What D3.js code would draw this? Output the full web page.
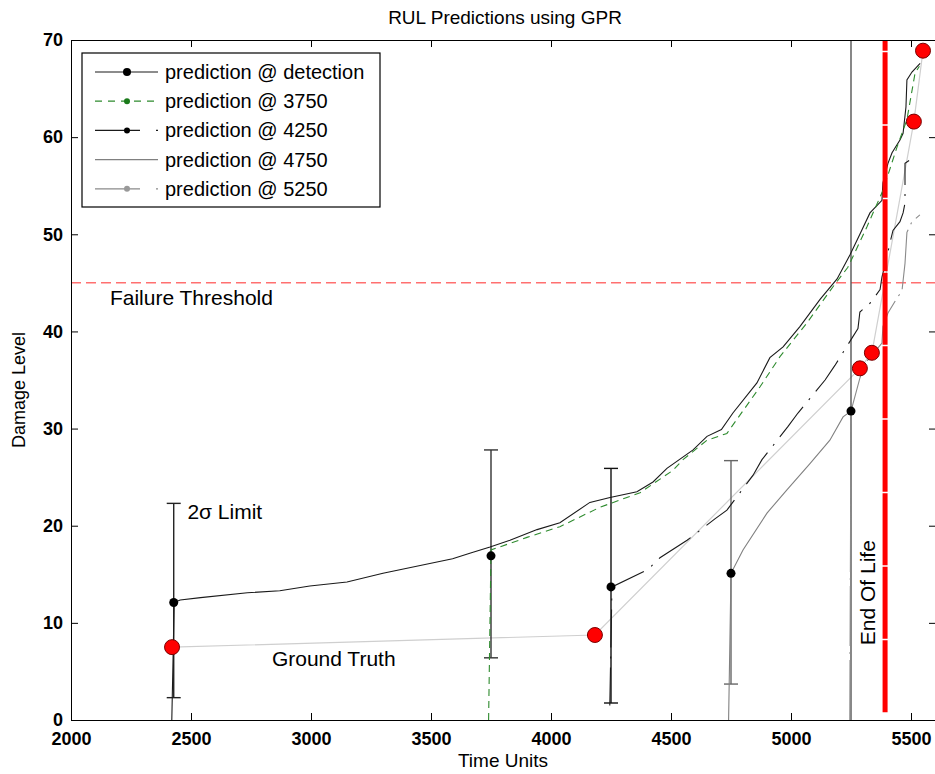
<!DOCTYPE html>
<html>
<head>
<meta charset="utf-8">
<script src="https://cdn.jsdelivr.net/npm/d3@7"></script>
<style>
  body { margin: 0; background: #fff; }
  text { font-family: "Liberation Sans", Arial, sans-serif; }
</style>
</head>
<body>
<script>
// ---- data ----
let xTicks = [2000, 2500, 3000, 3500, 4000, 4500, 5000, 5500];
let yTicks = [0, 10, 20, 30, 40, 50, 60, 70];

let seriesNames = ["prediction @ detection", "prediction @ 3750", "prediction @ 4250",
                   "prediction @ 4750", "prediction @ 5250"];

let predDetection = [[2420,0],[2430,12.1],[2455,12.35],[2540,12.6],[2735,13.1],[2870,13.3],[2995,13.8],
  [3150,14.2],[3300,15.1],[3455,15.9],[3590,16.6],[3665,17.2],[3746,17.8],[3829,18.5],[3942,19.6],
  [4037,20.3],[4162,22.4],[4246,22.9],[4358,23.5],[4425,24.5],[4483,25.9],[4592,27.8],[4650,29.2],
  [4710,29.9],[4758,31.6],[4858,34.7],[4912,37.3],[4967,38.4],[5037,40.5],[5121,43.3],[5192,45.4],
  [5246,47.9],[5287,50.0],[5329,52.2],[5379,53.5],[5383,55.3],[5404,57.3],[5421,58.4],[5454,59.7],
  [5467,60.4],[5479,63.1],[5483,65.9],[5504,66.7],[5538,67.6]];

let pred3750 = [[3740,0],[3750,17.5],[3900,18.8],[4037,19.9],[4204,21.9],[4371,23.4],[4508,25.7],
  [4550,26.8],[4650,28.8],[4733,29.5],[4871,34.3],[4954,37.4],[5067,40.9],[5175,44.6],[5237,46.6],
  [5317,50.8],[5383,54.5],[5442,59.0],[5483,61.8],[5517,66.6],[5535,67.3]];

let pred4250 = [[4245,1.5],[4254,13.7],[4404,15.5],[4454,16.7],[4567,18.5],[4683,20.7],[4733,21.6],
  [4842,25.2],[4879,26.8],[4987,30.2],[5029,31.6],[5142,35.0],[5183,36.5],[5279,40.3],[5287,42.0],
  [5329,42.9],[5371,44.3],[5379,45.6],[5400,47.7],[5412,49.1],[5425,50.4],[5454,51.3],[5467,52.2],
  [5475,53.2],[5475,57.3],[5492,57.6]];

let pred4750 = [[4740,0],[4750,15.1],[4800,17.5],[4900,21.3],[4983,23.7],[5079,26.4],[5162,28.8],
  [5217,31.2],[5250,31.8]];

let pred5250 = [[5245,0],[5250,31.8],[5287,35.2],[5312,36.8],[5379,38.8],[5383,40.5],[5404,41.9],
  [5446,43.6],[5462,44.1],[5475,47.0],[5483,50.2],[5504,51.3],[5537,52.0]];

// 2 sigma error bars at each prediction time
let errTimes = [2428, 3750, 4250, 4750, 5250];
let errLow   = [2.3, 6.4, 1.75, 3.7, -10];
let errHigh  = [22.3, 27.8, 25.9, 26.7, 90];
let errMid   = [12.1, 16.9, 13.7, 15.1, 31.8];

let truthTimes  = [2421, 4183, 5287, 5337, 5512, 5550];
let truthValues = [7.5, 8.75, 36.2, 37.8, 61.6, 68.9];

let failureThreshold = 45;
let endOfLife = 5392;

// ---- drawing ----
let canvasW = 935;
let canvasH = 774;
let pLeft = 71, pRight = 935, pTop = 40, pBottom = 720;

const svg = d3.select("body").append("svg")
    .attr("width", canvasW)
    .attr("height", canvasH)
    .style("background-color", "#ffffff");

let x = d3.scaleLinear().domain([2000, 5600]).range([pLeft, pRight]);
let y = d3.scaleLinear().domain([0, 70]).range([pBottom, pTop]);

svg.append("clipPath").attr("id", "plotclip")
    .append("rect")
    .attr("x", pLeft).attr("y", pTop)
    .attr("width", pRight - pLeft + 5).attr("height", pBottom - pTop);

let plot = svg.append("g").attr("clip-path", "url(#plotclip)");

let line = d3.line().x(d => x(d[0])).y(d => y(d[1]));

// failure threshold
plot.append("line")
    .attr("x1", pLeft).attr("x2", pRight)
    .attr("y1", y(failureThreshold)).attr("y2", y(failureThreshold))
    .attr("stroke", "#ff7070").attr("stroke-width", 1.5)
    .attr("stroke-dasharray", "10,5");

// ground truth
plot.append("path")
    .datum(truthTimes.map((t, i) => [t, truthValues[i]]))
    .attr("d", line)
    .attr("fill", "none")
    .attr("stroke", "#cfcfcf")
    .attr("stroke-width", 1.2);

// error bars
let errColors = ["#222", "#333", "#111", "#666", "#555"];
errTimes.forEach((t, i) => {
    let g = plot.append("g").attr("stroke", errColors[i]).attr("stroke-width", 1.4);
    g.append("line")
        .attr("x1", x(t)).attr("x2", x(t))
        .attr("y1", y(errLow[i])).attr("y2", y(errHigh[i]));
    [errLow[i], errHigh[i]].forEach(v => {
        g.append("line")
            .attr("x1", x(t) - 7).attr("x2", x(t) + 7)
            .attr("y1", y(v)).attr("y2", y(v));
    });
});

// prediction curves
let styles = [
    {data: predDetection, color: "#1a1a1a", width: 1.1, dash: null},
    {data: pred3750, color: "#2e8b2e", width: 1.1, dash: "7,5"},
    {data: pred4250, color: "#1a1a1a", width: 1.1, dash: "38,9,2,9"},
    {data: pred4750, color: "#808080", width: 1.1, dash: null},
    {data: pred5250, color: "#8a8a8a", width: 1.1, dash: "60,6,2,6"}
];

styles.forEach(s => {
    plot.append("path")
        .datum(s.data)
        .attr("d", line)
        .attr("fill", "none")
        .attr("stroke", s.color)
        .attr("stroke-width", s.width)
        .attr("stroke-dasharray", s.dash);
});

// prediction start dots
plot.selectAll(".startdot")
    .data(errTimes)
    .enter()
    .append("circle")
    .attr("cx", d => x(d))
    .attr("cy", (d, i) => y(errMid[i]))
    .attr("r", 4.5)
    .attr("fill", "#000");

// end of life marker line
plot.append("line")
    .attr("x1", x(endOfLife)).attr("x2", x(endOfLife))
    .attr("y1", y(0.8)).attr("y2", y(70))
    .attr("stroke", "#ff0000").attr("stroke-width", 5)
    .attr("stroke-dasharray", "72,1.5");

// ground truth points
plot.selectAll(".truth")
    .data(truthTimes)
    .enter()
    .append("circle")
    .attr("cx", d => x(d))
    .attr("cy", (d, i) => y(truthValues[i]))
    .attr("r", 7.5)
    .attr("fill", "#ff0000")
    .attr("stroke", "#7a0000")
    .attr("stroke-width", 1);

// axes
svg.append("g")
    .attr("transform", `translate(0, ${pBottom})`)
    .call(d3.axisBottom(x).tickValues(xTicks).tickFormat(d3.format("d"))
        .tickSizeInner(-7).tickSizeOuter(0).tickPadding(12));
svg.append("g")
    .attr("transform", `translate(${pLeft}, 0)`)
    .call(d3.axisLeft(y).tickValues(yTicks).tickSizeInner(-7).tickSizeOuter(0).tickPadding(8));
svg.append("g")
    .attr("transform", `translate(0, ${pTop})`)
    .call(d3.axisTop(x).tickValues(xTicks).tickSizeInner(-7).tickSizeOuter(0).tickFormat(""));
svg.append("g")
    .attr("transform", `translate(${pRight + 1}, 0)`)
    .call(d3.axisRight(y).tickValues(yTicks).tickSizeInner(-7).tickSizeOuter(0).tickFormat(""));

svg.selectAll(".domain").attr("stroke", "#000");
svg.selectAll(".tick line").attr("stroke", "#000");
svg.selectAll(".tick text")
    .attr("font-size", "18px")
    .attr("font-weight", "bold")
    .attr("font-family", "Liberation Sans, Arial, sans-serif")
    .attr("fill", "#000");

// legend
let lg = svg.append("g");
lg.append("rect")
    .attr("x", 82).attr("y", 53)
    .attr("width", 298).attr("height", 154)
    .attr("fill", "#fff").attr("stroke", "#000").attr("stroke-width", 1.2);

let legendDash = [null, "7,6", "45,16,2,30", null, "45,16,2,30"];
let legendColor = ["#1a1a1a", "#2e8b2e", "#1a1a1a", "#808080", "#8a8a8a"];
let legendDot = ["#000", "#1a7a1a", "#000", null, "#999"];

seriesNames.forEach((name, i) => {
    let yy = 72 + i * 29.2;
    lg.append("line")
        .attr("x1", 95).attr("x2", 158)
        .attr("y1", yy).attr("y2", yy)
        .attr("stroke", legendColor[i]).attr("stroke-width", 1.2)
        .attr("stroke-dasharray", legendDash[i]);
    if (legendDot[i]) {
        lg.append("circle")
            .attr("cx", 127).attr("cy", yy)
            .attr("r", i == 0 ? 4 : 3)
            .attr("fill", legendDot[i]);
    }
    lg.append("text")
        .attr("x", 165).attr("y", yy + 7)
        .attr("font-size", "20px")
        .attr("fill", "#000")
        .text(name);
});

// annotations
svg.append("text")
    .attr("x", x(2162)).attr("y", y(42.7))
    .attr("font-size", "21px")
    .text("Failure Threshold");

svg.append("text")
    .attr("x", x(2485)).attr("y", y(20.7))
    .attr("font-size", "21px")
    .text("2σ Limit");

svg.append("text")
    .attr("x", x(2837)).attr("y", y(5.56))
    .attr("font-size", "21px")
    .text("Ground Truth");

svg.append("text")
    .attr("transform", `translate(${x(5350)}, ${y(7.7)}) rotate(-90)`)
    .attr("font-size", "21px")
    .text("End Of Life");

// titles
svg.append("text")
    .attr("x", 505).attr("y", 24)
    .attr("text-anchor", "middle")
    .attr("font-size", "19px")
    .text("RUL Predictions using GPR");

svg.append("text")
    .attr("x", 503).attr("y", 767)
    .attr("text-anchor", "middle")
    .attr("font-size", "19px")
    .text("Time Units");

svg.append("text")
    .attr("transform", "translate(25, 390) rotate(-90)")
    .attr("text-anchor", "middle")
    .attr("font-size", "18px")
    .text("Damage Level");
</script>
</body>
</html>
